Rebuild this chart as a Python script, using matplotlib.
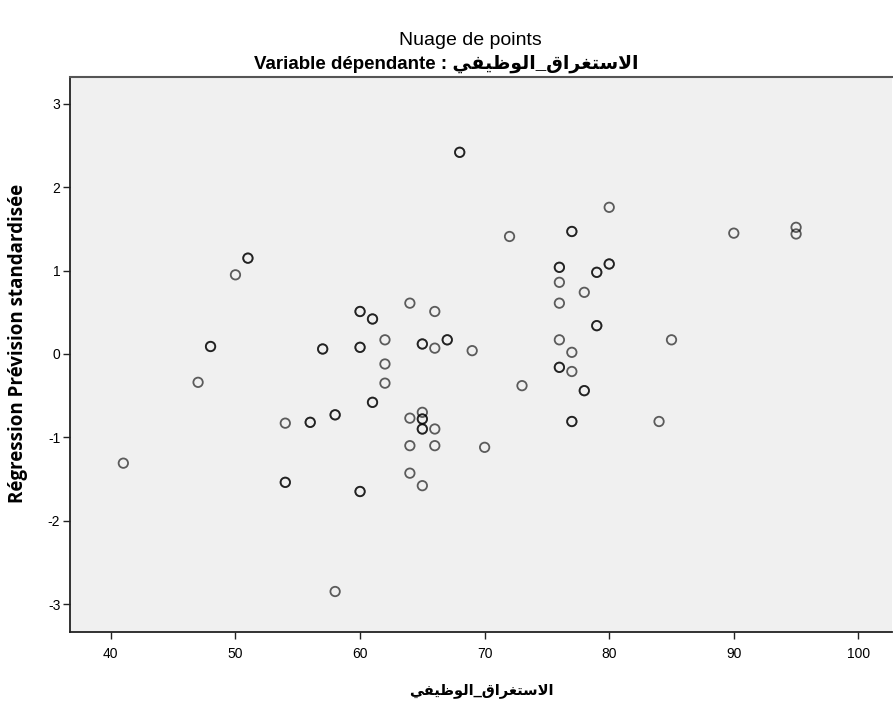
import matplotlib

matplotlib.use("Agg")

import matplotlib.pyplot as plt

plt.rcParams["font.family"] = ["Liberation Sans", "DejaVu Sans"]
plt.rcParams["axes.unicode_minus"] = False

# Arabic variable name, pre-shaped with presentation forms in visual order
VAR_NAME = "\ufef2\ufed4\ufef4\ufec7\ufeee\ufedf\ufe8d_\ufed5\ufe8d\ufeae\ufed0\ufe98\ufeb3\ufefb\ufe8d"

# observed score vs standardised predicted value (repeated pairs appear darker)
engagement = [
    50, 64, 66, 62, 66, 69, 80, 72, 90, 95, 95, 76, 78, 76, 76, 85, 77,
    47, 62, 62, 64, 65, 66, 54, 64, 66, 70, 41, 64, 65, 58, 77, 73, 84,
    68, 68, 51, 51, 60, 60, 61, 61, 48, 48, 57, 57, 60, 60, 65, 65, 67, 67,
    77, 77, 76, 76, 80, 80, 79, 79, 79, 79, 61, 61, 65, 65, 65, 65,
    56, 56, 58, 58, 54, 54, 60, 60, 76, 76, 78, 78, 77, 77,
]
pred_std = [
    0.95, 0.61, 0.51, 0.17, 0.07, 0.04, 1.76, 1.41, 1.45, 1.52, 1.44, 0.86, 0.74, 0.61, 0.17, 0.17, 0.02,
    -0.34, -0.12, -0.35, -0.77, -0.70, -0.90, -0.83, -1.10, -1.10, -1.12, -1.31, -1.43, -1.58, -2.85, -0.21, -0.38, -0.81,
    2.42, 2.42, 1.15, 1.15, 0.51, 0.51, 0.42, 0.42, 0.09, 0.09, 0.06, 0.06, 0.08, 0.08, 0.12, 0.12, 0.17, 0.17,
    1.47, 1.47, 1.04, 1.04, 1.08, 1.08, 0.98, 0.98, 0.34, 0.34, -0.58, -0.58, -0.78, -0.78, -0.90, -0.90,
    -0.82, -0.82, -0.73, -0.73, -1.54, -1.54, -1.65, -1.65, -0.16, -0.16, -0.44, -0.44, -0.81, -0.81,
]

x_ticks = [40, 50, 60, 70, 80, 90, 100]
y_ticks = [-3, -2, -1, 0, 1, 2, 3]

fig = plt.figure(figsize=(8.93, 7.06), dpi=100)
ax = fig.add_axes([0.0784, 0.1048, 0.9205, 0.7857])
ax.set_facecolor("#f0f0f0")

ax.scatter(engagement, pred_std, s=46, facecolors="none", edgecolors="black",
           linewidths=1.3, alpha=0.62, zorder=3)

ax.set_xlim(36.72, 102.7)
ax.set_ylim(-3.336, 3.32)
ax.set_xticks(x_ticks)
ax.set_yticks(y_ticks)
ax.tick_params(axis="both", labelsize=10, length=5, width=1.0, color="#222222")
ax.tick_params(axis="x", pad=6)
ax.tick_params(axis="y", pad=2)

for side in ("left", "bottom"):
    ax.spines[side].set_linewidth(1.3)
    ax.spines[side].set_color("#222222")
ax.spines["top"].set_linewidth(1.5)
ax.spines["top"].set_color("#555555")
ax.spines["right"].set_visible(False)

ax.set_xlabel(VAR_NAME, fontsize=10.5, fontweight="bold", labelpad=16)
ax.set_ylabel("Régression Prévision standardisée", fontsize=13.5, fontweight="bold",
              family=["Open Sans", "DejaVu Sans"])
ax.yaxis.set_label_coords(-0.051, 0.52)

fig.text(0.527, 0.943, "Nuage de points", ha="center", va="center", fontsize=14)
fig.text(0.5, 0.910, "Variable dépendante : " + VAR_NAME, ha="center", va="center",
         fontsize=13.5, fontweight="bold")

fig.savefig("out.png", dpi=100)
plt.close(fig)
